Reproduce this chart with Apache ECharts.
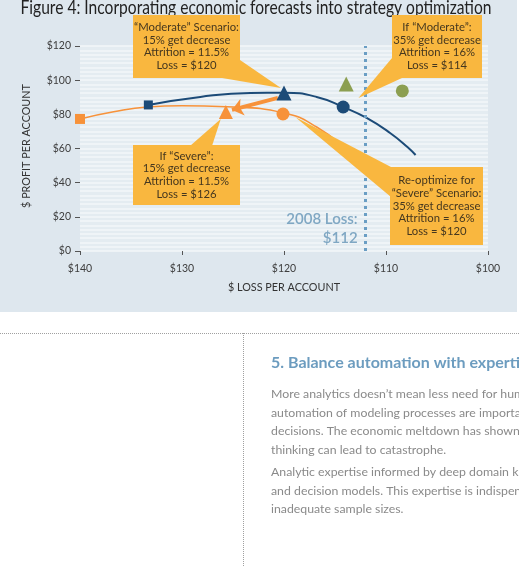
<!DOCTYPE html>
<html>
<head>
<meta charset="utf-8">
<script src="https://cdn.jsdelivr.net/npm/echarts@6/dist/echarts.min.js"></script>
<style>
  html, body { margin: 0; padding: 0; background: #fff; }
  #chart { width: 519px; height: 567px; }
</style>
</head>
<body>
<div id="chart"></div>
<script>
// ticks
const lossTicks = [140, 130, 120, 110, 100]
const profitTicks = [0, 20, 40, 60, 80, 100, 120]

// efficient frontier, "Moderate" economy ($ loss per account -> $ profit per account)
const moderateLoss = [133.3, 128.2, 123.3, 120, 116.8, 114.2, 111.9, 109.6, 107.9, 107.1]
const moderateProfit = [85.5, 90.2, 92.5, 92.6, 90.2, 84.3, 77.9, 69.1, 60.9, 56.2]

// efficient frontier, "Severe" economy
const severeLoss = [140, 136.7, 133.4, 130, 125.6, 120, 116.8, 113.8, 112.8]
const severeProfit = [77.3, 81.5, 84.3, 85, 84.4, 80.8, 72.6, 59, 52]

// marked strategies: square, triangle, circle
const moderateMarks = [[133.3, 85.5], [120, 92.5], [114.2, 84.3]]
const severeMarks = [[140, 77.3], [125.7, 81.4], [120.1, 80.2]]
// triangle, circle
const greenMarks = [[113.9, 97.8], [108.4, 93.7]]

// shift from "Moderate" choice to its "Severe" outcome
const shiftFrom = [120.6, 89.6]
const shiftTo = [125.1, 82.6]

const loss2008 = 112

const navy = '#1c4b78'
const orange = '#f7923a'
const green = '#8c9f51'
const yellow = '#f9b73f'

function toPairs(xs, ys) {
  return xs.map((x, i) => [x, ys[i]])
}

function markData(marks, shapes, sizes) {
  return marks.map((p, i) => ({
    value: p,
    symbol: shapes[i],
    symbolSize: sizes[i]
  }))
}

const chart = echarts.init(document.getElementById('chart'))

chart.setOption({
  backgroundColor: '#ffffff',
  animation: false,
  grid: {
    left: 80,
    right: 31,
    top: 46,
    bottom: 316,
    show: true,
    backgroundColor: '#e4ecf1',
    borderWidth: 0
  },
  xAxis: {
    type: 'value',
    min: 100,
    max: 140,
    interval: 10,
    inverse: true,
    name: '$ LOSS PER ACCOUNT',
    nameLocation: 'middle',
    nameGap: 31,
    nameTextStyle: { color: '#333', fontSize: 10.8, fontFamily: 'Lato' },
    axisLine: { show: false },
    axisTick: { show: true, length: 4, lineStyle: { color: '#555' } },
    splitLine: { show: false },
    axisLabel: {
      color: '#3d3d3d',
      fontSize: 10.5,
      fontFamily: 'Lato',
      margin: 12,
      formatter: v => lossTicks.includes(v) ? '$' + v : ''
    }
  },
  yAxis: [{
    type: 'value',
    min: 0,
    max: 120,
    interval: 20,
    axisLine: { show: false },
    axisTick: { show: true, length: 5, lineStyle: { color: '#555' } },
    splitLine: { show: false },
    axisLabel: {
      color: '#3d3d3d',
      fontSize: 10.5,
      fontFamily: 'Lato',
      margin: 9,
      formatter: v => profitTicks.includes(v) ? '$' + v : ''
    }
  }, {
    // background stripes
    type: 'value',
    min: 0,
    max: 120,
    interval: 2.5,
    position: 'left',
    axisLine: { show: false },
    axisTick: { show: false },
    axisLabel: { show: false },
    splitLine: { show: true, lineStyle: { color: '#f3f7f9', width: 1.6 } }
  }],
  series: [{
    name: 'Moderate',
    type: 'line',
    smooth: true,
    showSymbol: false,
    lineStyle: { color: navy, width: 2 },
    data: toPairs(moderateLoss, moderateProfit),
    z: 3
  }, {
    name: 'Severe',
    type: 'line',
    smooth: true,
    showSymbol: false,
    lineStyle: { color: orange, width: 1.6 },
    data: toPairs(severeLoss, severeProfit),
    z: 3,
    markLine: {
      silent: true,
      symbol: ['none', 'arrow'],
      symbolSize: [13, 11],
      label: { show: false },
      lineStyle: { color: orange, width: 4, type: 'solid' },
      data: [[{ coord: shiftFrom }, { coord: shiftTo }]]
    }
  }, {
    name: '2008',
    type: 'line',
    data: [],
    markLine: {
      silent: true,
      symbol: ['none', 'none'],
      label: { show: false },
      lineStyle: { color: '#6a9ec4', width: 3, type: [3, 4] },
      data: [{ xAxis: loss2008 }]
    }
  }, {
    name: 'Moderate marks',
    type: 'scatter',
    itemStyle: { color: navy, opacity: 1 },
    data: markData(moderateMarks, ['rect', 'triangle', 'circle'], [9, 15, 13]),
    z: 5
  }, {
    name: 'Severe marks',
    type: 'scatter',
    itemStyle: { color: orange, opacity: 1 },
    data: markData(severeMarks, ['rect', 'triangle', 'circle'], [10, 14, 13]),
    z: 5
  }, {
    name: 'Green marks',
    type: 'scatter',
    itemStyle: { color: green, opacity: 1 },
    data: markData(greenMarks, ['triangle', 'circle'], [15, 13]),
    z: 5
  }]
})

// callouts: box in pixels, pointer tip anchored to a data position
const callouts = [{
  box: [133, 15, 107, 63],
  lines: ['“Moderate” Scenario:', '15% get decrease', 'Attrition = 11.5%', 'Loss = $120'],
  base: [[222, 78], [240, 60]],
  tip: [120.3, 95.4]
}, {
  box: [392, 15, 90, 63],
  lines: ['If “Moderate”:', '35% get decrease', 'Attrition = 16%', 'Loss = $114'],
  base: [[392, 58], [402, 78]],
  tip: [112.7, 89.6]
}, {
  box: [133, 145, 107, 60],
  lines: ['If “Severe”:', '15% get decrease', 'Attrition = 11.5%', 'Loss = $126'],
  base: [[190, 146], [212, 146]],
  tip: [126.2, 77.3]
}, {
  box: [390, 167, 93, 78],
  lines: ['Re-optimize for', '“Severe” Scenario:', '35% get decrease', 'Attrition = 16%', 'Loss = $120'],
  base: [[391, 167], [391, 197]],
  tip: [118.9, 78.5]
}]

const graphics = []

// light blue panel behind the figure
graphics.push({
  type: 'rect',
  z: -10,
  silent: true,
  shape: { x: 0, y: 0, width: 517, height: 312 },
  style: { fill: '#dee7ee' }
})

// title, partly cut off at the top of the page
graphics.push({
  type: 'text',
  x: 256,
  y: 7.5,
  scaleX: 0.82,
  z: 10,
  style: {
    text: 'Figure 4: Incorporating economic forecasts into strategy optimization',
    fill: '#222',
    font: '19px Lato',
    align: 'center',
    verticalAlign: 'middle'
  }
})

// y axis name
graphics.push({
  type: 'text',
  x: 27,
  y: 146,
  rotation: Math.PI / 2,
  style: {
    text: '$ PROFIT PER ACCOUNT',
    fill: '#333',
    font: '10.8px Lato',
    align: 'center',
    verticalAlign: 'middle'
  }
})

callouts.forEach(c => {
  const tip = chart.convertToPixel({ gridIndex: 0 }, c.tip)
  graphics.push({
    type: 'polygon',
    z: 20,
    silent: true,
    shape: { points: [c.base[0], c.base[1], tip] },
    style: { fill: yellow }
  })
  graphics.push({
    type: 'rect',
    z: 20,
    silent: true,
    shape: { x: c.box[0], y: c.box[1], width: c.box[2], height: c.box[3] },
    style: { fill: yellow }
  })
  const lh = 12.7
  const cy = c.box[1] + c.box[3] / 2
  c.lines.forEach((t, i) => {
    graphics.push({
      type: 'text',
      z: 21,
      x: c.box[0] + c.box[2] / 2,
      y: cy + (i - (c.lines.length - 1) / 2) * lh,
      style: {
        text: t,
        fill: '#45371f',
        font: '11.3px Lato',
        align: 'center',
        verticalAlign: 'middle'
      }
    })
  })
})

// 2008 loss label next to the dotted line
const lossPos = chart.convertToPixel({ gridIndex: 0 }, [loss2008, 0])
;['2008 Loss:', '$112'].forEach((t, i) => {
  graphics.push({
    type: 'text',
    z: 10,
    x: lossPos[0] - 8,
    y: lossPos[1] - 32 + i * 19,
    style: {
      text: t,
      fill: '#7fa7c3',
      font: '600 15px Lato',
      align: 'right',
      verticalAlign: 'middle'
    }
  })
})

// page layout below the figure
graphics.push({
  type: 'line',
  silent: true,
  shape: { x1: 0, y1: 333.5, x2: 519, y2: 333.5 },
  style: { stroke: '#a0a0a0', lineWidth: 1, lineDash: [1, 1] }
})
graphics.push({
  type: 'line',
  silent: true,
  shape: { x1: 243.5, y1: 333, x2: 243.5, y2: 567 },
  style: { stroke: '#a0a0a0', lineWidth: 1, lineDash: [1, 1] }
})
graphics.push({
  type: 'text',
  x: 271,
  y: 363,
  style: {
    text: '5. Balance automation with expertise',
    fill: '#6c9cbf',
    font: 'bold 16px Lato',
    verticalAlign: 'middle'
  }
})

const bodyLines = [
  ['More analytics doesn’t mean less need for human', 394],
  ['automation of modeling processes are important', 412.7],
  ['decisions. The economic meltdown has shown', 431.4],
  ['thinking can lead to catastrophe.', 450.5],
  ['Analytic expertise informed by deep domain knowledge', 472],
  ['and decision models. This expertise is indispensable', 490.7],
  ['inadequate sample sizes.', 509.4]
]
bodyLines.forEach(([t, y]) => {
  graphics.push({
    type: 'text',
    x: 271,
    y: y,
    style: {
      text: t,
      fill: '#8a8a8a',
      font: '12.3px Lato',
      verticalAlign: 'middle'
    }
  })
})

chart.setOption({ graphic: graphics })
</script>
</body>
</html>
